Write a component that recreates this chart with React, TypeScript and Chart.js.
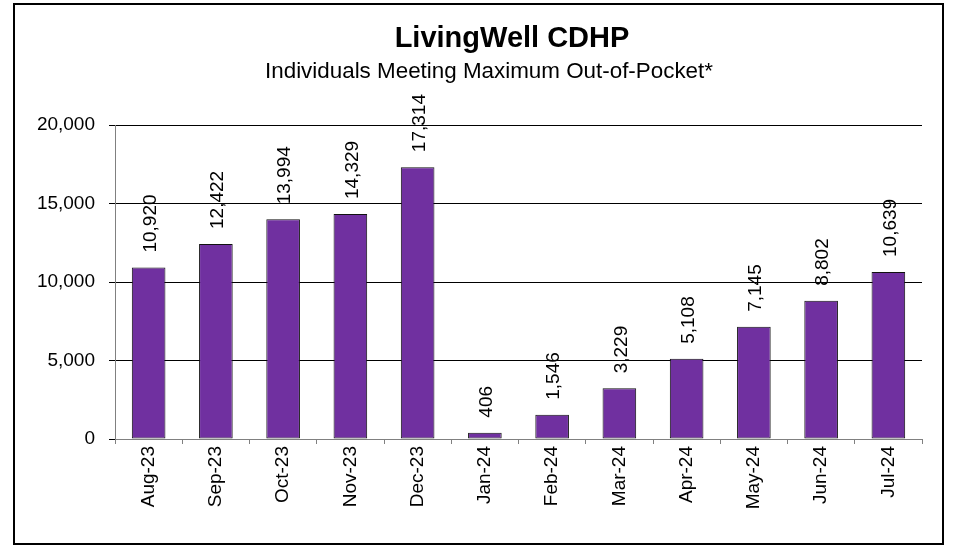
import React, { useEffect, useRef } from "react";
import { Chart, registerables } from "chart.js";

Chart.register(...registerables);

const categories = ["Aug-23", "Sep-23", "Oct-23", "Nov-23", "Dec-23", "Jan-24", "Feb-24", "Mar-24", "Apr-24", "May-24", "Jun-24", "Jul-24"];
const values = [10920, 12422, 13994, 14329, 17314, 406, 1546, 3229, 5108, 7145, 8802, 10639];
const titleText = "LivingWell CDHP";
const subtitleText = "Individuals Meeting Maximum Out-of-Pocket*";
const yMin = 0;
const yMax = 20000;
const yStep = 5000;

const FONT = "'Liberation Sans', Arial, sans-serif";
const fmt = (v: number) => v.toLocaleString("en-US");

const decorPlugin = {
  id: "decor",
  afterDatasetsDraw(chart: any) {
    const ctx = chart.ctx;
    const meta = chart.getDatasetMeta(0);
    ctx.save();
    ctx.fillStyle = "#000";
    ctx.font = `19px ${FONT}`;
    ctx.textAlign = "left";
    ctx.textBaseline = "middle";
    meta.data.forEach((bar: any, i: number) => {
      ctx.save();
      ctx.translate(bar.x + 2, bar.y - 15);
      ctx.rotate(-Math.PI / 2);
      ctx.fillText(fmt(values[i]), 0, 0);
      ctx.restore();
    });
    ctx.restore();
  },
  afterDraw(chart: any) {
    const ctx = chart.ctx;
    ctx.save();
    ctx.fillStyle = "#000";
    ctx.textAlign = "center";
    ctx.textBaseline = "alphabetic";
    ctx.font = `bold 29px ${FONT}`;
    ctx.fillText(titleText, 512, 47);
    ctx.font = `22.4px ${FONT}`;
    ctx.fillText(subtitleText, 489, 78);
    ctx.strokeStyle = "#000";
    ctx.lineWidth = 2;
    ctx.strokeRect(14, 4, 929, 540);
    ctx.restore();
  },
};

export default function App() {
  const ref = useRef<HTMLCanvasElement>(null);
  useEffect(() => {
    const chart = new Chart(ref.current!, {
      type: "bar",
      data: {
        labels: categories,
        datasets: [
          {
            data: values,
            backgroundColor: "#7030A0",
            borderColor: "#111",
            borderWidth: 1,
            borderSkipped: false,
            barPercentage: 0.5,
            categoryPercentage: 1,
          },
        ],
      },
      options: {
        animation: false,
        responsive: false,
        devicePixelRatio: 1,
        layout: { padding: { left: 0, right: 33, top: 125, bottom: 0 } },
        plugins: { legend: { display: false }, tooltip: { enabled: false }, title: { display: false } },
        scales: {
          x: {
            afterFit: (s: any) => { s.height = 106; },
            grid: { offset: true, drawOnChartArea: false, drawTicks: true, tickLength: 5, color: "#808080" },
            border: { color: "#808080", width: 1 },
            ticks: { color: "#000", font: { family: FONT, size: 19 }, minRotation: 90, maxRotation: 90, padding: 2, autoSkip: false },
          },
          y: {
            min: yMin,
            max: yMax,
            afterFit: (s: any) => { s.width = 115; },
            grid: { color: "#000", drawTicks: true, tickLength: 6 },
            border: { color: "#808080", width: 1 },
            ticks: { stepSize: yStep, color: "#000", font: { family: FONT, size: 19 }, padding: 14, callback: (v: any) => fmt(Number(v)) },
          },
        },
      },
      plugins: [decorPlugin],
    });
    return () => chart.destroy();
  }, []);
  return (
    <div style={{ position: "fixed", left: 0, top: 0, width: 955, height: 545, background: "#fff" }}>
      <canvas ref={ref} width={955} height={545} />
    </div>
  );
}
